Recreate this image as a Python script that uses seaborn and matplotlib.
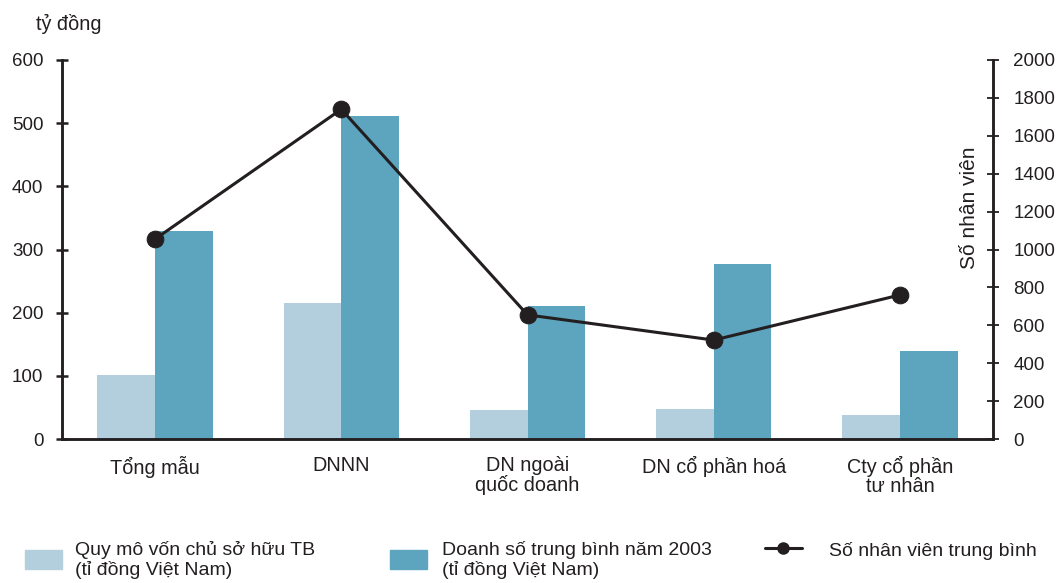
import matplotlib
matplotlib.use("Agg")
import matplotlib.pyplot as plt
import matplotlib.patches as mpatches
import matplotlib.lines as mlines
import numpy as np
import pandas as pd
import seaborn as sns

# Data
categories = ["Tổng mẫu", "DNNN", "DN ngoài\nquốc doanh", "DN cổ phần hoá", "Cty cổ phần\ntư nhân"]
von_chu_so_huu = [101, 215, 46, 47, 38]
doanh_so_2003 = [329, 511, 210, 277, 139]
so_nhan_vien = [1055, 1740, 655, 522, 760]

series_names = ["Quy mô vốn chủ sở hữu TB\n(tỉ đồng Việt Nam)",
                "Doanh số trung bình năm 2003\n(tỉ đồng Việt Nam)"]
line_name = "Số nhân viên trung bình"

light = "#B3CEDC"
dark = "#5DA5BE"
ink = "#231F20"

df = pd.DataFrame({
    "category": categories * 2,
    "series": [series_names[0]] * len(categories) + [series_names[1]] * len(categories),
    "value": von_chu_so_huu + doanh_so_2003,
})

sns.set_style("white")
plt.rcParams["font.family"] = ["Liberation Sans", "DejaVu Sans"]

fig = plt.figure(figsize=(10.56, 5.83), dpi=100)
ax = fig.add_axes([62 / 1056, 1 - 439 / 583, (993 - 62) / 1056, (439 - 60) / 583])

sns.barplot(data=df, x="category", y="value", hue="series", order=categories,
            hue_order=series_names, palette=[light, dark], width=0.62,
            saturation=1, linewidth=0, ax=ax, legend=False)

ax2 = ax.twinx()
sns.lineplot(x=np.arange(len(categories)), y=so_nhan_vien, ax=ax2, color=ink,
             linewidth=2.2, marker="o", markersize=12, markeredgecolor=ink,
             markerfacecolor=ink)

ax.set_xlim(-0.5, len(categories) - 0.5)
ax.set_ylim(0, 600)
ax2.set_ylim(0, 2000)
ax.set_yticks(range(0, 601, 100))
ax2.set_yticks(range(0, 2001, 200))

ax.set_xlabel("")
ax.set_ylabel("")
ax2.set_ylabel("")

for a in (ax, ax2):
    for s in a.spines.values():
        s.set_color(ink)
        s.set_linewidth(1.8)
    a.spines["top"].set_visible(False)

ax.tick_params(axis="y", direction="inout", length=9, width=1.8, color=ink,
               labelsize=13.5, pad=9, labelcolor=ink)
ax2.tick_params(axis="y", direction="inout", length=9, width=1.3, color=ink,
                labelsize=13.5, pad=10, labelcolor=ink)
ax.tick_params(axis="x", which="major", length=0, labelsize=14.3, pad=12, labelcolor=ink)
ax.set_xticks(np.arange(0.5, len(categories) - 1, 1), minor=True)
ax.tick_params(axis="x", which="minor", direction="inout", length=9, width=1.5, color=ink)
for lbl in ax.get_xticklabels():
    lbl.set_linespacing(1.0)

ax2.text(0.975, 0.61, "Số nhân viên", transform=ax2.transAxes, rotation=90,
         ha="center", va="center", fontsize=15, color=ink)
fig.text(36 / 1056, 1 - 24 / 583, "tỷ đồng", ha="left", va="center",
         fontsize=14.3, color=ink)

# legend: three separate entries placed like the reference
handles = [
    mpatches.Patch(color=light, label=series_names[0]),
    mpatches.Patch(color=dark, label=series_names[1]),
    mlines.Line2D([], [], color=ink, linewidth=2.2, marker="o", markersize=8,
                  label=line_name),
]
legend_x = [25 / 1056, 390 / 1056, 765 / 1056]
legend_y = [1 - 560 / 583, 1 - 560 / 583, 1 - 550 / 583]
legend_pad = [0.67, 0.75, 1.4]
for h, lx, ly, tp in zip(handles, legend_x, legend_y, legend_pad):
    leg = fig.legend(handles=[h], loc="center left", bbox_to_anchor=(lx, ly),
                     frameon=False, fontsize=14, handlelength=1.9, handleheight=1.13,
                     handletextpad=tp, borderpad=0, borderaxespad=0, labelcolor=ink)
    for t in leg.get_texts():
        t.set_linespacing(1.15)

fig.savefig("out.png", dpi=100)
